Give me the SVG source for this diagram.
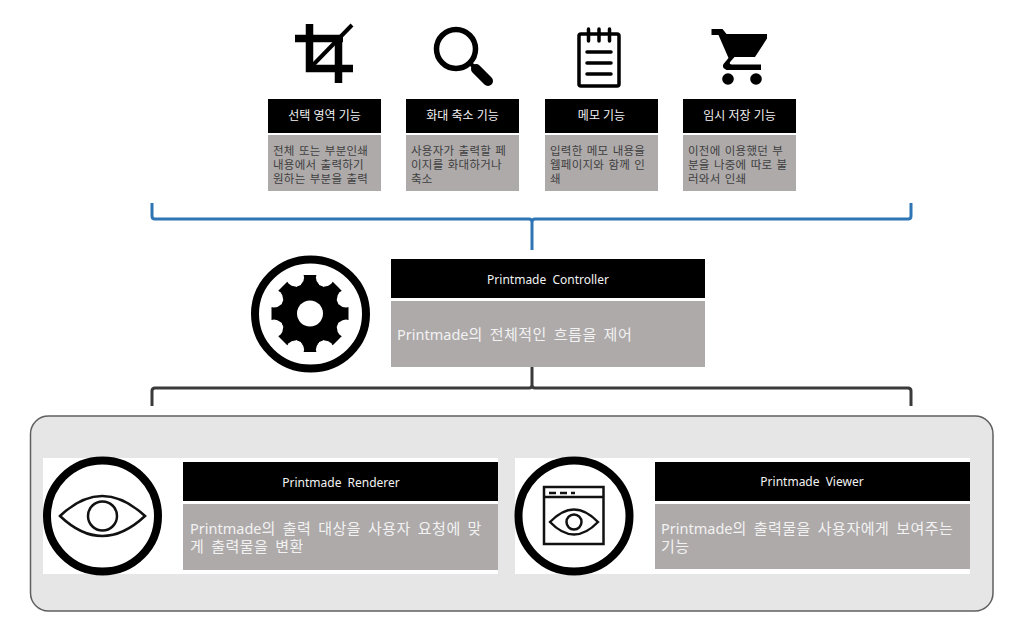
<svg xmlns="http://www.w3.org/2000/svg" width="1026" height="617" viewBox="0 0 1026 617">
<style>
text{font-family:"Noto Sans","Noto Sans CJK KR",sans-serif}
.hd{fill:#000}
.bd{fill:#aeaaaa}
.ht{fill:#f2f2f2;font-size:12px;text-anchor:middle;word-spacing:3px}
.st{fill:#404040;font-size:11.5px;letter-spacing:.25px;word-spacing:1px}
.wt{fill:#f2f2f2;font-size:14.5px}
.k{font-size:15px;letter-spacing:.5px;word-spacing:2.5px}
.ring{fill:none;stroke:#000;stroke-width:8}
.ln{fill:none;stroke:#111;stroke-width:2.5}
.ink{fill:#000}
.cut{fill:#fff}
</style>
<rect width="1026" height="617" fill="#fff"/>
<g id="connectors" fill="none" stroke-width="3">
<path d="M152,203V216Q152,219 155,219H529Q532,219 532,222V250M532,222Q532,219 535,219H908Q911,219 911,216V203" stroke="#2e75b6"/>
<path d="M532,358V385Q532,388 529,388H155Q152,388 152,391V406M532,385Q532,388 535,388H908Q911,388 911,391V406" stroke="#3a3a3a"/>
</g>
<g id="crop-feature">
<path d="M295,38.500H343M309.500,24V68.500H353M338.500,38V83" fill="none" stroke="#000" stroke-width="7.500"/>
<path d="M313,65L352,25" stroke="#000" stroke-width="4" fill="none"/>
<rect class="hd" x="268" y="99" width="113" height="34"/>
<rect class="bd" x="268" y="135" width="113" height="56"/>
<text class="ht" x="324.500" y="120" style="word-spacing:0">선택 영역 기능</text>
<text class="st"><tspan x="273" y="155">전체 또는 부분인쇄</tspan><tspan x="273" y="169">내용에서 출력하기</tspan><tspan x="273" y="183">원하는 부분을 출력</tspan></text>
</g>
<g id="zoom-feature">
<circle cx="456" cy="49" r="19.500" fill="none" stroke="#000" stroke-width="5.500"/>
<path d="M470,63L476,69" stroke="#000" stroke-width="4" fill="none"/>
<path d="M476,69L488,81" stroke="#000" stroke-width="10" stroke-linecap="round" fill="none"/>
<rect class="hd" x="406" y="99" width="113" height="34"/>
<rect class="bd" x="406" y="135" width="113" height="56"/>
<text class="ht" x="462.500" y="120" style="word-spacing:0">화대 축소 기능</text>
<text class="st"><tspan x="411" y="155">사용자가 출력할 페</tspan><tspan x="411" y="169">이지를 화대하거나</tspan><tspan x="411" y="183">축소</tspan></text>
</g>
<g id="memo-feature">
<rect x="579" y="34" width="40" height="52" rx="2" fill="none" stroke="#000" stroke-width="3.500"/>
<path d="M588.500,29V41M599,29V41M609.500,29V41M587,52H611M587,63H611M587,74H611" fill="none" stroke="#000" stroke-width="3.500" stroke-linecap="round"/>
<rect class="hd" x="545" y="99" width="113" height="34"/>
<rect class="bd" x="545" y="135" width="113" height="56"/>
<text class="ht" x="601.500" y="120" style="word-spacing:0">메모 기능</text>
<text class="st"><tspan x="550" y="155">입력한 메모 내용을</tspan><tspan x="550" y="169">웹페이지와 함께 인</tspan><tspan x="550" y="183">쇄</tspan></text>
</g>
<g id="save-feature">
<path d="M711.500,29H722.500L726.500,34H767V38.500L755,57H734.500L730.500,61.500Q728.500,64 731.500,64.500H761V70H726.500Q721.500,68 723.500,64L728.500,58L718.500,35H711.500Z" class="ink"/>
<circle cx="728" cy="79" r="5.800" class="ink"/>
<circle cx="756" cy="79" r="5.800" class="ink"/>
<rect class="hd" x="683" y="99" width="113" height="34"/>
<rect class="bd" x="683" y="135" width="113" height="56"/>
<text class="ht" x="739.500" y="120" style="word-spacing:0">임시 저장 기능</text>
<text class="st"><tspan x="688" y="155">이전에 이용했던 부</tspan><tspan x="688" y="169">분을 나중에 따로 불</tspan><tspan x="688" y="183">러와서 인쇄</tspan></text>
</g>
<g id="controller">
<ellipse cx="310.500" cy="314" rx="55.500" ry="54.500" class="ring"/>
<circle cx="310" cy="313.500" r="30" class="ink"/>
<rect class="ink" x="301" y="275" width="18" height="77" rx="3"/>
<rect class="ink" x="301" y="275" width="18" height="77" rx="3" transform="rotate(45 310 313.500)"/>
<rect class="ink" x="301" y="275" width="18" height="77" rx="3" transform="rotate(90 310 313.500)"/>
<rect class="ink" x="301" y="275" width="18" height="77" rx="3" transform="rotate(135 310 313.500)"/>
<g class="cut">
<circle cx="346" cy="328.400" r="9"/><circle cx="346" cy="298.600" r="9"/>
<circle cx="274" cy="328.400" r="9"/><circle cx="274" cy="298.600" r="9"/>
<circle cx="324.900" cy="349.500" r="9"/><circle cx="324.900" cy="277.500" r="9"/>
<circle cx="295.100" cy="349.500" r="9"/><circle cx="295.100" cy="277.500" r="9"/>
</g>
<circle cx="310" cy="313.500" r="13" class="cut"/>
<rect class="hd" x="391" y="259" width="314" height="39"/>
<rect class="bd" x="391" y="301" width="314" height="66"/>
<text class="ht" x="548" y="284">Printmade Controller</text>
<text class="wt" x="397" y="340">Printmade<tspan class="k">의 전체적인 흐름을 제어</tspan></text>
</g>
<g id="container">
<rect x="30.500" y="416" width="962.500" height="195" rx="18" fill="#e6e6e6" stroke="#5f5f5f" stroke-width="1.500"/>
</g>
<g id="renderer">
<rect x="43" y="458" width="455" height="116" fill="#fff"/>
<circle cx="102.500" cy="516" r="55.500" class="ring"/>
<path d="M60,516Q102,476 145,516Q102,556 60,516Z" class="ln"/>
<circle cx="102.500" cy="516" r="14.500" class="ln"/>
<rect class="hd" x="183" y="462" width="315" height="39"/>
<rect class="bd" x="183" y="504" width="315" height="66"/>
<text class="ht" x="341" y="487">Printmade Renderer</text>
<text class="wt" x="190" y="534">Printmade<tspan class="k">의 출력 대상을 사용자 요청에 맞</tspan></text>
<text class="wt" x="190" y="552"><tspan class="k">게 출력물을 변환</tspan></text>
</g>
<g id="viewer">
<rect x="515" y="458" width="455" height="116" fill="#fff"/>
<circle cx="574" cy="516" r="55.500" class="ring"/>
<rect x="544" y="487" width="59.500" height="57" class="ln"/>
<path d="M544,497H603.500" class="ln"/>
<path d="M549,493H556M560,493H567M571,493H575" class="ln"/>
<path d="M550,522Q574,497 598,522Q574,547 550,522Z" class="ln"/>
<circle cx="574" cy="522" r="7.500" class="ln"/>
<rect class="hd" x="655" y="462" width="315" height="39"/>
<rect class="bd" x="655" y="504" width="315" height="65"/>
<text class="ht" x="812" y="486">Printmade Viewer</text>
<text class="wt" x="661" y="534">Printmade<tspan class="k">의 출력물을 사용자에게 보여주는</tspan></text>
<text class="wt" x="661" y="552"><tspan class="k">기능</tspan></text>
</g>
</svg>
